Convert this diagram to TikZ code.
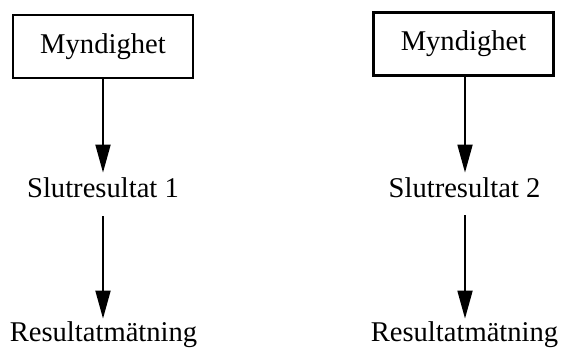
\documentclass[tikz,border=0pt]{standalone}
\usepackage{fontspec}
\setmainfont{Liberation Serif}
\usetikzlibrary{arrows.meta}
\begin{document}
\begin{tikzpicture}[x=0.5pt,y=-0.5pt,
  every node/.style={font=\fontsize{14.3}{17}\selectfont},
  box/.style={draw,line width=1.35pt,minimum width=90pt,minimum height=31.5pt,inner sep=0pt},
  lbl/.style={anchor=base,inner xsep=0pt,inner ysep=0pt,text height=0.7em,text depth=0.2em},
  arr/.style={line width=0.9pt,-{Triangle[length=14pt,width=7.5pt]}}]
\useasboundingbox (0,0) rectangle (565,347);
\node[box] (m1) at (103,46.5) {Myndighet};
\node[box] (m2) at (463.5,44) {Myndighet};
\node[lbl] (s1) at (103,197) {Slutresultat 1};
\node[lbl] (s2) at (464.5,197) {Slutresultat 2};
\node[lbl] (r1) at (103.5,341) {Resultatmätning};
\node[lbl] (r2) at (464.5,341) {Resultatmätning};
\draw[arr,shorten >=5pt] (m1.south -| 103,0) -- (s1.north -| 103,0);
\draw[arr,shorten >=5pt] (m2.south -| 465,0) -- (s2.north -| 465,0);
\draw[arr,shorten <=7.5pt,shorten >=4pt] (s1.south -| 103,0) -- (r1.north -| 103,0);
\draw[arr,shorten <=7pt,shorten >=4pt] (s2.south -| 465,0) -- (r2.north -| 465,0);
\end{tikzpicture}
\end{document}
